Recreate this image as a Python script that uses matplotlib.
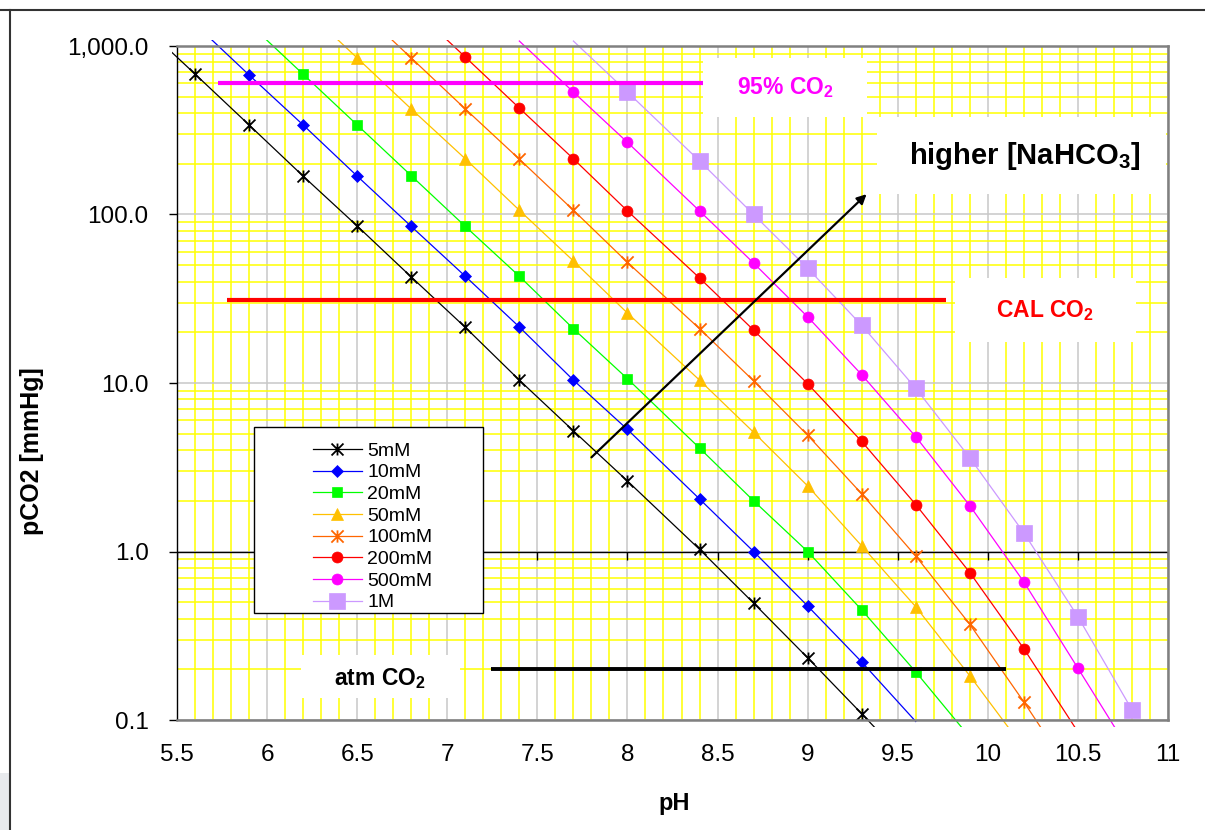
import matplotlib
matplotlib.use("Agg")
import matplotlib.pyplot as plt, numpy as np
from matplotlib.patches import Rectangle
from matplotlib.lines import Line2D
from matplotlib.path import Path
from matplotlib.ticker import FixedLocator, LogLocator, NullFormatter

plt.rcParams['font.family'] = 'Liberation Sans'
plt.rcParams['mathtext.default'] = 'regular'

# --- data (first/last points of some series lie off-chart) ---
ph_5mM = [5.3, 5.6, 5.9, 6.2, 6.5, 6.8, 7.1, 7.4, 7.7, 8.0, 8.4, 8.7, 9.0, 9.3, 9.6]
p_5mM = [1360, 682, 340, 169, 85.5, 42.6, 21.4, 10.4, 5.2, 2.62, 1.03, 0.494, 0.234, 0.109, 0.05]

ph_10mM = [5.6, 5.9, 6.2, 6.5, 6.8, 7.1, 7.4, 7.7, 8.0, 8.4, 8.7, 9.0, 9.3, 9.6]
p_10mM = [1350, 673, 340, 169, 85, 43, 21.5, 10.4, 5.3, 2.05, 1.0, 0.475, 0.221, 0.098]

ph_20mM = [5.9, 6.2, 6.5, 6.8, 7.1, 7.4, 7.7, 8.0, 8.4, 8.7, 9.0, 9.3, 9.6, 9.9]
p_20mM = [1360, 680, 340, 170, 85, 43, 21, 10.6, 4.11, 2.0, 1.0, 0.45, 0.193, 0.079]

ph_50mM = [6.2, 6.5, 6.8, 7.1, 7.4, 7.7, 8.0, 8.4, 8.7, 9.0, 9.3, 9.6, 9.9, 10.2]
p_50mM = [1700, 849, 423, 214, 106, 53, 26, 10.4, 5.1, 2.45, 1.08, 0.47, 0.183, 0.068]

ph_100mM = [6.5, 6.8, 7.1, 7.4, 7.7, 8.0, 8.4, 8.7, 9.0, 9.3, 9.6, 9.9, 10.2, 10.5]
p_100mM = [1700, 849, 423, 213, 106, 52, 21, 10.3, 4.9, 2.2, 0.94, 0.37, 0.128, 0.042]

ph_200mM = [6.8, 7.1, 7.4, 7.7, 8.0, 8.4, 8.7, 9.0, 9.3, 9.6, 9.9, 10.2, 10.5]
p_200mM = [1720, 860, 428, 214, 105, 42, 20.6, 9.9, 4.5, 1.9, 0.75, 0.265, 0.085]

ph_500mM = [7.4, 7.7, 8.0, 8.4, 8.7, 9.0, 9.3, 9.6, 9.9, 10.2, 10.5, 10.8]
p_500mM = [1070, 533, 268, 105, 51.5, 24.7, 11.2, 4.8, 1.87, 0.66, 0.203, 0.062]

ph_1M = [7.7, 8.0, 8.4, 8.7, 9.0, 9.3, 9.6, 9.9, 10.2, 10.5, 10.8]
p_1M = [1070, 533, 208, 100, 48, 22, 9.3, 3.6, 1.29, 0.41, 0.115]

labels = ['5mM', '10mM', '20mM', '50mM', '100mM', '200mM', '500mM', '1M']
ph_all = [ph_5mM, ph_10mM, ph_20mM, ph_50mM, ph_100mM, ph_200mM, ph_500mM, ph_1M]
p_all = [p_5mM, p_10mM, p_20mM, p_50mM, p_100mM, p_200mM, p_500mM, p_1M]

# reference CO2 levels
ref_level = [600, 31, 0.2]
ref_xmin = [5.73, 5.78, 7.24]
ref_xmax = [8.42, 9.77, 10.1]

# arrow "higher [NaHCO3]"
arrow_from = (7.8, 3.62)
arrow_to = (9.327, 132)

# --- styles ---
colors = ['#000000', '#0000FF', '#00FF00', '#FFC000', '#FF6600', '#FF0000', '#FF00FF', '#CC99FF']
star = Path([(-1, -1), (1, 1), (-1, 1), (1, -1), (0, -1), (0, 1)],
            [Path.MOVETO, Path.LINETO, Path.MOVETO, Path.LINETO, Path.MOVETO, Path.LINETO])
markers = [star, 'D', 's', '^', star, 'o', 'o', 's']
msizes = [8.6, 6.2, 7.9, 8.8, 8.8, 7.9, 7.9, 12.2]
mews = [1.3, 0.5, 0.5, 0.5, 1.3, 0.5, 0.5, 0.5]

W, H = 1205, 830
def fx(px): return px / W
def fy(py): return 1 - py / H

fig = plt.figure(figsize=(W / 100, H / 100), dpi=100)
ax = fig.add_axes([fx(177), fy(720), fx(1168) - fx(177), (720 - 46) / H])

ax.set_xlim(5.5, 11)
ax.set_yscale('log')
ax.set_ylim(0.1, 1000)

x_major = np.arange(5.5, 11.01, 0.5)
ax.xaxis.set_major_locator(FixedLocator(x_major))
ax.xaxis.set_minor_locator(FixedLocator(np.arange(5.5, 11.01, 0.1)))
ax.set_xticklabels(['%g' % v for v in x_major])
ax.yaxis.set_major_locator(FixedLocator([0.1, 1, 10, 100, 1000]))
ax.yaxis.set_minor_locator(LogLocator(subs=np.arange(2, 10)))
ax.yaxis.set_minor_formatter(NullFormatter())
ax.set_yticklabels(['0.1', '1.0', '10.0', '100.0', '1,000.0'])

ax.tick_params(axis='y', which='major', direction='out', length=5.5, width=1, labelsize=17.5, pad=15)
ax.tick_params(axis='y', which='minor', length=0)
ax.tick_params(axis='x', which='both', length=0, labelsize=17.5, pad=17)

ax.set_axisbelow(True)
ax.grid(which='major', color='#C8C8C8', lw=1.1)
ax.grid(which='minor', color='#FFFF00', lw=1.1)

for side in ['top', 'right', 'bottom']:
    ax.spines[side].set_color('#808080')
    ax.spines[side].set_linewidth(1.8)
ax.spines['left'].set_color('black')
ax.spines['left'].set_linewidth(1)

# horizontal axis crosses at 1.0
ax.axhline(1, color='black', lw=1, zorder=1.2)
ax.plot(x_major, np.ones_like(x_major), ls='none', marker=3, ms=5.5, mew=1, color='black', zorder=1.2)

# series lines run a little past the plot area, like the original
clip = Rectangle((-5 / 991, -7 / 674), 1 + 10 / 991, 1 + 13 / 674, transform=ax.transAxes)
for x, p, c, m, ms, mew in zip(ph_all, p_all, colors, markers, msizes, mews):
    p = np.array(p)
    show = (p >= 0.1) & (p <= 1000)
    ln, = ax.plot(x, p, color=c, lw=0.9, marker=m, ms=ms, mfc=c, mec=c, mew=mew,
                  markevery=list(show), zorder=2)
    ln.set_clip_path(clip)

# reference lines
for lvl, x0, x1, c, lw in zip(ref_level, ref_xmin, ref_xmax, ['#FF00FF', '#FF0000', '#000000'], [3, 3, 2.8]):
    ax.plot([x0, x1], [lvl, lvl], color=c, lw=lw, solid_capstyle='butt', zorder=3)

ax.annotate('', xy=arrow_to, xytext=arrow_from,
            arrowprops=dict(arrowstyle='-|>', color='black', lw=1.6, mutation_scale=14,
                            shrinkA=0, shrinkB=0), zorder=3.5)

# white label boxes
boxes = [(703, 58, 867, 117), (877, 117, 1166, 194), (955, 278, 1136, 342), (301, 655, 460, 698)]
for x0, y0, x1, y1 in boxes:
    ax.add_patch(Rectangle((fx(x0), fy(y1)), fx(x1) - fx(x0), (y1 - y0) / H,
                           transform=fig.transFigure, fc='white', ec='none', zorder=1))

fig.text(fx(785), fy(88), '95% CO$_2$', color='#FF00FF', fontsize=16.5, fontweight='bold', ha='center', va='center')
fig.text(fx(1025), fy(156), 'higher [NaHCO$_3$]', color='black', fontsize=21, fontweight='bold', ha='center', va='center')
fig.text(fx(1045), fy(311), 'CAL CO$_2$', color='#FF0000', fontsize=16.5, fontweight='bold', ha='center', va='center')
fig.text(fx(380), fy(679), 'atm CO$_2$', color='black', fontsize=16.5, fontweight='bold', ha='center', va='center')

# legend in a fixed box
ax.add_patch(Rectangle((fx(254), fy(613)), fx(483) - fx(254), (613 - 427) / H,
                       transform=fig.transFigure, fc='white', ec='black', lw=1, zorder=4.8))
handles = [Line2D([], [], color=c, lw=0.9, marker=m, ms=ms, mfc=c, mec=c, mew=mew)
           for c, m, ms, mew in zip(colors, markers, msizes, mews)]
ax.legend(handles, labels, loc='upper left', bbox_to_anchor=(fx(313), fy(442)),
          bbox_transform=fig.transFigure, frameon=False, fontsize=14, handlelength=2.5,
          handletextpad=0.3, labelspacing=0.21, borderpad=0, borderaxespad=0, numpoints=1)

fig.text(fx(32), fy(451), 'pCO2 [mmHg]', rotation=90, fontsize=18, fontweight='bold', ha='center', va='center')
fig.text(fx(674), fy(803), 'pH', fontsize=17, fontweight='bold', ha='center', va='center')

# outer frame of the chart object
fig.add_artist(Rectangle((0, 0), fx(9), (830 - 773) / H, transform=fig.transFigure, fc='#E8EAED', ec='none'))
fig.add_artist(Line2D([0, 1], [fy(10), fy(10)], transform=fig.transFigure, color='#333333', lw=1.5))
fig.add_artist(Line2D([fx(10), fx(10)], [0, fy(10)], transform=fig.transFigure, color='#333333', lw=1.5))

fig.savefig('out.png', dpi=100)
